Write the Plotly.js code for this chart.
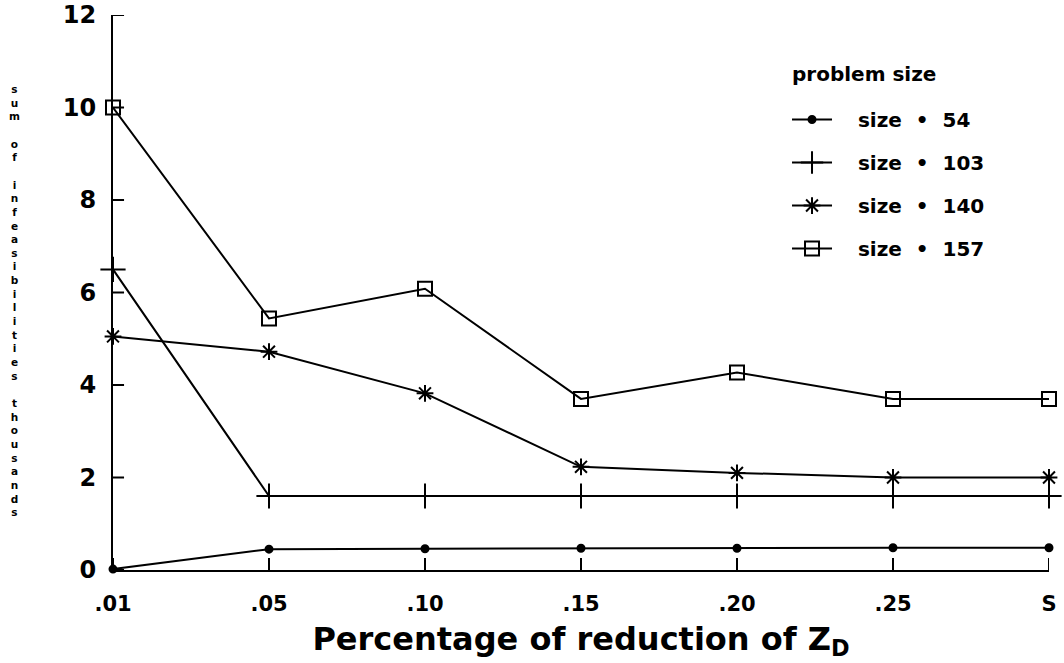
<!DOCTYPE html>
<html>
<head>
<meta charset="utf-8">
<script src="https://cdn.plot.ly/plotly-3.0.1.min.js"></script>
<style>html,body{margin:0;padding:0;background:#fff;}#chart{width:1064px;height:663px;}</style>
</head>
<body>
<div id="chart"></div>
<script>
const categories = [".01", ".05", ".10", ".15", ".20", ".25", "S"];
const size54  = [0.02, 0.45, 0.46, 0.47, 0.47, 0.48, 0.48];
const size103 = [6.5, 1.6, 1.6, 1.6, 1.6, 1.6, 1.6];
const size140 = [5.05, 4.72, 3.82, 2.23, 2.10, 2.0, 2.0];
const size157 = [10.0, 5.44, 6.08, 3.70, 4.27, 3.70, 3.70];
const seriesNames = ["size \u2022 54", "size \u2022 103", "size \u2022 140", "size \u2022 157"];
const yTicks = [0, 2, 4, 6, 8, 10, 12];
const yTitle = "sum of infeasibilities thousands";
const xTitle = "Percentage of reduction of Z<sub>D</sub>";
const legendTitle = "problem size";

const FONT = "DejaVu Sans, Liberation Sans, Arial, sans-serif";
const idx = categories.map((c, i) => i);
const PAD = "\u00a0\u00a0\u00a0";
const labelOf = n => PAD + n.replace(/ /g, "\u00a0\u00a0");

function trace(y, name, symbol, size, group) {
  return {
    x: idx, y: y, name: labelOf(name), type: "scatter", mode: "lines+markers",
    legendgroup: group, cliponaxis: false,
    line: {color: "#000", width: 2},
    marker: {symbol: symbol, size: size, color: "#000", line: {color: "#000", width: 2}}
  };
}

const data = [
  trace(size54, seriesNames[0], "circle", 7, "a"),
  trace(size103, seriesNames[1], "cross-thin-open", 18, "b"),
  trace(size140, seriesNames[2], "asterisk-open", 14, "c"),
  trace(size157, seriesNames[3], "square-open", 14, "d")
];

const stacked = yTitle.split("").map(ch => ch === " " ? "\u00a0" : ch).join("<br>");

// inside tick marks, placed through the axes at the tick values
const tickShapes = [];
idx.forEach(i => tickShapes.push({
  type: "line", xref: "x", yref: "paper", x0: i, x1: i, y0: 0, y1: 0.0216,
  line: {color: "#000", width: 2}, layer: "above"
}));
yTicks.forEach(v => tickShapes.push({
  type: "line", xref: "paper", yref: "y", x0: 0, x1: 0.0118, y0: v, y1: v,
  line: {color: "#000", width: 2}, layer: "above"
}));

const layout = {
  width: 1064, height: 663,
  margin: {l: 113, r: 15, t: 15, b: 93},
  paper_bgcolor: "#fff", plot_bgcolor: "#fff",
  font: {family: FONT, color: "#000", size: 20, weight: "bold"},
  showlegend: true,
  legend: {
    x: 0.7201, y: 0.8468, xanchor: "left", yanchor: "top",
    bgcolor: "rgba(0,0,0,0)",
    font: {family: FONT, size: 20, color: "#000", weight: "bold"},
    tracegroupgap: 14,
    itemwidth: 40
  },
  xaxis: {
    range: [0, 6], tickmode: "array", tickvals: idx, ticktext: categories,
    showgrid: false, zeroline: false, showline: true, linecolor: "#000", linewidth: 2,
    ticks: "", ticklabelstandoff: 14,
    tickfont: {family: FONT, size: 21, color: "#000", weight: "bold"},
    title: {text: xTitle, font: {family: FONT, size: 32, color: "#000", weight: "bold"}, standoff: 12}
  },
  yaxis: {
    range: [0, 12], tickmode: "array", tickvals: yTicks, ticktext: yTicks.map(String),
    showgrid: false, zeroline: false, showline: true, linecolor: "#000", linewidth: 2,
    ticks: "", ticklabelstandoff: 10,
    tickfont: {family: FONT, size: 24, color: "#000", weight: "bold"}
  },
  shapes: tickShapes,
  annotations: [
    {
      xref: "paper", yref: "paper", x: -0.105, y: 0.486, xanchor: "center", yanchor: "middle",
      text: stacked, showarrow: false, align: "center",
      font: {family: FONT, size: 10.5, color: "#000", weight: "bold"}
    },
    {
      xref: "paper", yref: "paper", x: 0.7233, y: 0.8937, xanchor: "left", yanchor: "middle",
      text: legendTitle, showarrow: false, align: "left",
      font: {family: FONT, size: 20, color: "#000", weight: "bold"}
    }
  ]
};

Plotly.newPlot("chart", data, layout, {displayModeBar: false, staticPlot: true});
</script>
</body>
</html>
